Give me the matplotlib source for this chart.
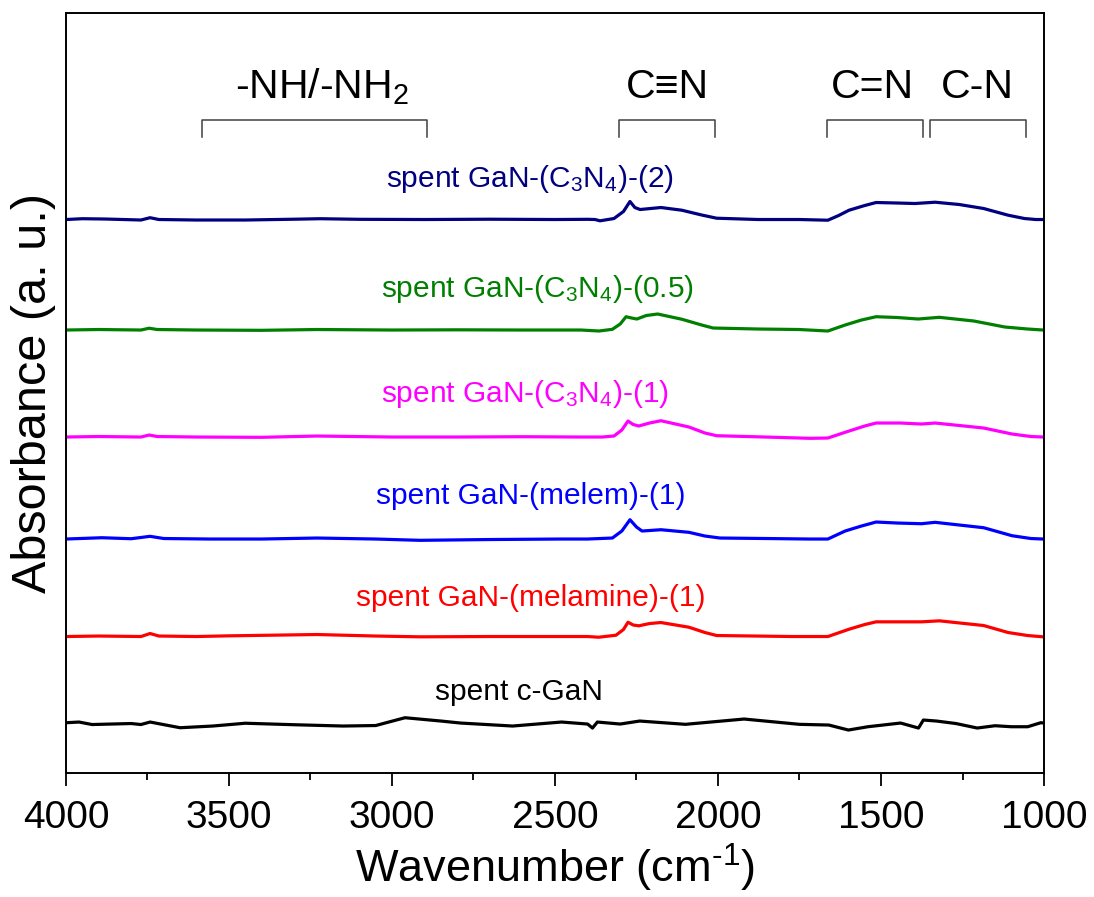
import matplotlib
matplotlib.use("Agg")
import matplotlib.pyplot as plt
from matplotlib.ticker import MultipleLocator

plt.rcParams["font.family"] = ["Liberation Sans", "DejaVu Sans"]
plt.rcParams["mathtext.fontset"] = "custom"
plt.rcParams["mathtext.rm"] = "Liberation Sans"
plt.rcParams["mathtext.it"] = "Liberation Sans:italic"
plt.rcParams["mathtext.bf"] = "Liberation Sans:bold"

# ---- FTIR spectra (wavenumber in cm-1, relative absorbance) ----
wn_c3n4_2 = [4000, 3950, 3880, 3770, 3742, 3715, 3600, 3450, 3300, 3220, 3100, 2900,
             2700, 2500, 2400, 2377, 2362, 2319, 2290, 2270, 2255, 2239, 2175, 2111,
             2050, 2004, 1877, 1750, 1663, 1630, 1598, 1550, 1515, 1450, 1396, 1334,
             1260, 1185, 1110, 1060, 1025, 1000]
ab_c3n4_2 = [0, 0.8, 0.5, -0.5, 1.8, 0, -0.5, -0.5, 0.3, 0.8, 0.2, 0,
             0.3, 0, 0.2, 0, -1.3, 1, 8, 18, 12, 10, 12, 9.3,
             4.5, 1.3, 0, 0, -0.7, 4, 9.3, 14, 17, 16.5, 16, 17.3,
             15, 11, 4.3, 1, 0, 0]

wn_c3n4_05 = [4000, 3900, 3770, 3745, 3720, 3600, 3400, 3230, 3000, 2800, 2600, 2420,
              2365, 2324, 2300, 2282, 2265, 2249, 2220, 2185, 2110, 2050, 2015, 1877,
              1750, 1663, 1610, 1560, 1515, 1450, 1386, 1321, 1215, 1120, 1050, 1003, 1000]
ab_c3n4_05 = [0, 0.5, 0, 1.8, 0.5, 0, -0.3, 0.5, 0, 0.2, 0, 0,
              -1, 0.7, 6, 13.3, 12, 11, 14.5, 16, 10.7, 5, 2, 1,
              0.5, -1, 5, 10, 13.3, 12.5, 11, 12.7, 9, 3, 1, 0, 0]

wn_c3n4_1 = [4000, 3900, 3770, 3745, 3720, 3600, 3400, 3230, 3000, 2800, 2600, 2420,
             2355, 2319, 2295, 2276, 2260, 2243, 2210, 2175, 2089, 2040, 2004, 1856,
             1717, 1663, 1598, 1550, 1515, 1440, 1376, 1334, 1185, 1098, 1040, 1003, 1000]
ab_c3n4_1 = [0, 0.5, 0, 2, 0.5, 0, -0.3, 1, 0, 0, 0.3, 0,
             0, 1, 7, 16, 12.5, 11, 14, 16.3, 10, 4, 1.3, 0,
             -1.3, -1, 6, 11, 14, 14, 13, 14, 9, 3, 0.5, 0, 0]

wn_melem = [4000, 3890, 3800, 3742, 3700, 3558, 3400, 3230, 3050, 2914, 2700, 2485,
            2400, 2324, 2295, 2270, 2250, 2233, 2175, 2089, 2040, 1994, 1850, 1720,
            1663, 1610, 1560, 1515, 1450, 1376, 1334, 1185, 1098, 1040, 1003, 1000]
ab_melem = [0, 1.3, 0.3, 2.7, 0.5, 0, 0, 1, 0, -1.3, -0.5, 0,
            0, 1, 8, 19.3, 12, 8, 9.3, 6.7, 3, 1, 0.5, 0,
            0, 8, 13, 17, 16, 15.3, 16.7, 11.3, 3.3, 0.5, 0, 0]

wn_melamine = [4000, 3900, 3770, 3742, 3715, 3600, 3500, 3230, 3050, 2914, 2700, 2485,
               2400, 2366, 2313, 2290, 2276, 2260, 2243, 2210, 2175, 2089, 2040, 2004,
               1770, 1663, 1598, 1550, 1515, 1440, 1376, 1321, 1185, 1110, 1050, 1003, 1000]
ab_melamine = [0, 0.5, 0, 3, 0.5, 0, 0.7, 2, 0.5, -0.3, 0, 0,
               0, -0.7, 1.3, 7, 14.3, 11.5, 10.7, 13, 14, 9.3, 4, 1,
               0, 0, 7.3, 12, 14.7, 14.7, 14.7, 15.7, 11, 4, 1, -0.3, -0.3]

wn_cgan = [4000, 3960, 3920, 3800, 3770, 3742, 3650, 3550, 3450, 3300, 3150, 3050,
           2960, 2850, 2790, 2630, 2480, 2400, 2385, 2370, 2300, 2240, 2100, 1920,
           1750, 1660, 1600, 1540, 1440, 1385, 1370, 1330, 1270, 1205, 1150, 1100,
           1050, 1010, 1000]
ab_cgan = [1.3, 2, -0.5, 0.5, -0.5, 2, -3.7, -2, 0.8, -0.7, -2, -1.5,
           6.3, 3, 1, -2, 2, 0, -4, 2, 0, 3, -0.3, 5,
           -0.3, -1, -6, -2.7, 1, -4, 4, 3, 0.5, -4, -1.7, -2.7,
           -2.7, 1.3, 1]

spectra = [
    (wn_c3n4_2, ab_c3n4_2, "spent GaN-(C$_3$N$_4$)-(2)", "#000080"),
    (wn_c3n4_05, ab_c3n4_05, "spent GaN-(C$_3$N$_4$)-(0.5)", "#008000"),
    (wn_c3n4_1, ab_c3n4_1, "spent GaN-(C$_3$N$_4$)-(1)", "#FF00FF"),
    (wn_melem, ab_melem, "spent GaN-(melem)-(1)", "#0000FF"),
    (wn_melamine, ab_melamine, "spent GaN-(melamine)-(1)", "#FF0000"),
    (wn_cgan, ab_cgan, "spent c-GaN", "#000000"),
]

# vertical stacking of the spectra and placement of their names
offsets = [553.5, 443, 336, 234, 136.5, 49]
label_x = [2577, 2555, 2592, 2574, 2574, 2610]
label_y = [586, 476, 371, 269, 167, 73]

# functional-group regions (cm-1)
group_names = ["-NH/-NH$_2$", "C\u2261N", "C=N", "C-N"]
group_ranges = [(3583, 2893), (2304, 2009), (1666, 1371), (1350, 1055)]
group_text_x = [3215, 2156, 1525, 1204]

fig = plt.figure(figsize=(10.94, 8.97), dpi=100)
ax = fig.add_axes([0.0603, 0.1382, 0.894, 0.8473])

for (wn, ab, name, color), off, lx, ly in zip(spectra, offsets, label_x, label_y):
    ax.plot(wn, [a + off for a in ab], color=color, lw=2.3, solid_joinstyle="round")
    ax.text(lx, ly, name, color=color, fontsize=21.5, ha="center", va="baseline")

for (hi, lo), name, tx in zip(group_ranges, group_names, group_text_x):
    ax.plot([hi, hi, lo, lo], [636, 653, 653, 636], color="#404040", lw=1.1)
    ax.text(tx, 675, name, fontsize=29.5, ha="center", va="baseline")

ax.set_xlim(4000, 1000)
ax.set_ylim(0, 760)
ax.xaxis.set_major_locator(MultipleLocator(500))
ax.xaxis.set_minor_locator(MultipleLocator(250))
ax.set_yticks([])
ax.tick_params(axis="x", which="major", direction="out", length=9.5, width=1.3,
               labelsize=28, pad=10)
ax.tick_params(axis="x", which="minor", direction="out", length=5, width=1.3)
for sp in ax.spines.values():
    sp.set_linewidth(1.4)

ax.set_xlabel(r"Wavenumber (cm$^{\text{-}1}$)", fontsize=32.5, labelpad=4)
ax.set_ylabel("Absorbance (a. u.)", fontsize=35, labelpad=7)

fig.savefig("out.png", dpi=100)
